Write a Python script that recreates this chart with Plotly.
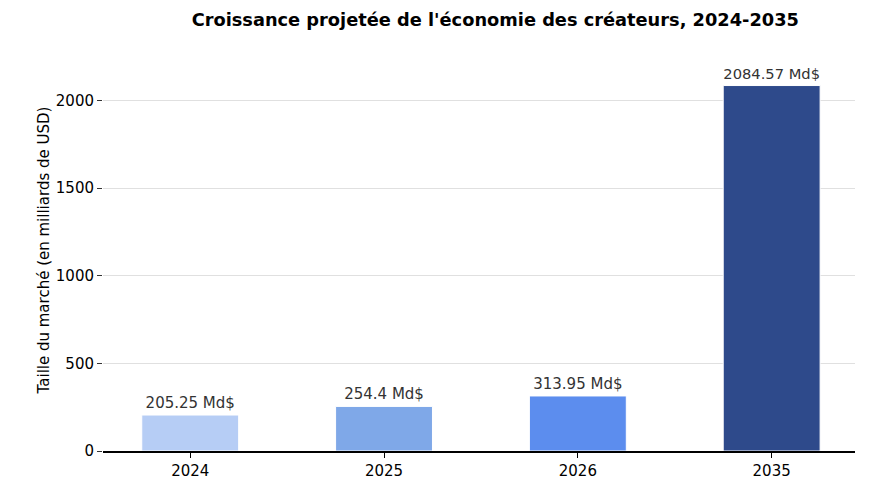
import plotly.graph_objects as go

years = ["2024", "2025", "2026", "2035"]
market_size = [205.25, 254.4, 313.95, 2084.57]
bar_colors = ["#b6cdf5", "#7fa8e8", "#5c8dee", "#2e4a8b"]
labels = [f"{v:g} Md$" for v in market_size]

fig = go.Figure()
fig.add_bar(
    x=list(range(len(years))),
    y=market_size,
    width=0.5,
    marker=dict(color=bar_colors, line=dict(color="white", width=1)),
    text=labels,
    textposition="outside",
    textfont=dict(size=15, color="#333333"),
    cliponaxis=False,
)

fig.update_layout(
    width=878,
    height=484,
    margin=dict(l=95, r=31, t=41, b=41),
    plot_bgcolor="white",
    paper_bgcolor="white",
    font=dict(family="DejaVu Sans", size=15, color="black"),
    title=dict(
        text="<b>Croissance projetée de l'économie des créateurs, 2024-2035</b>",
        x=0.555, xanchor="center", y=0.975, yanchor="middle",
        font=dict(size=17.8, color="black"),
    ),
    showlegend=False,
)
fig.update_xaxes(
    tickmode="array",
    tickvals=list(range(len(years))),
    ticktext=years,
    range=[-0.45, 3.43],
    showline=True, linecolor="black", linewidth=1.5,
    ticks="outside", ticklen=5, tickcolor="black",
    showgrid=False, zeroline=False, automargin=False,
    tickfont=dict(size=15),
)
fig.update_yaxes(
    range=[0, 2293],
    tickvals=[0, 500, 1000, 1500, 2000],
    showline=False,
    ticks="outside", ticklen=5, tickcolor="#333333",
    showgrid=True, gridcolor="#e0e0e0", gridwidth=1,
    zeroline=False, automargin=False,
    tickfont=dict(size=15),
    title=dict(text="Taille du marché (en milliards de USD)", font=dict(size=15), standoff=2),
)

fig.write_html("out.html")
